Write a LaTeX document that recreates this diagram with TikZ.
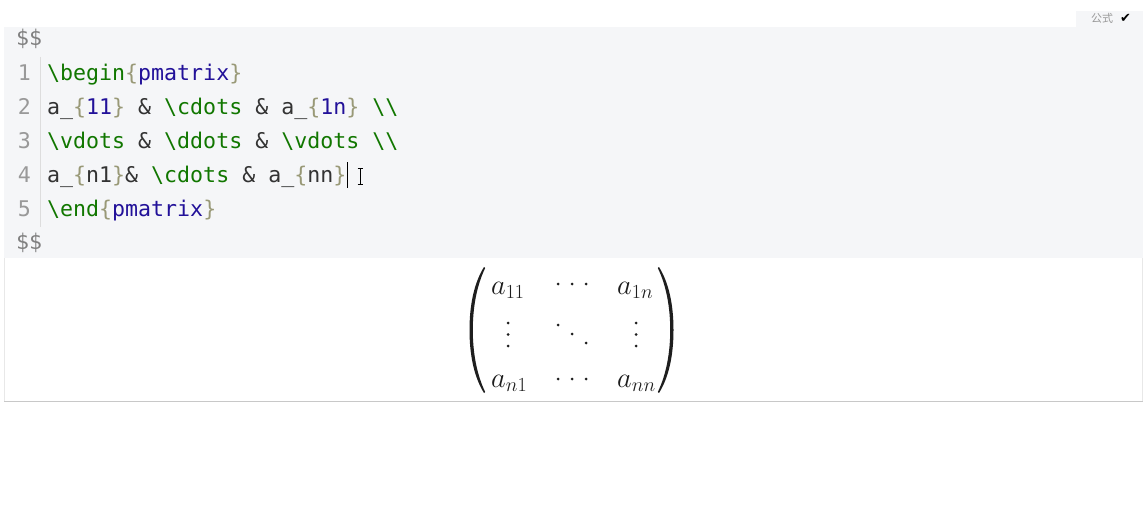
\RequirePackage{fix-cm}
\documentclass[tikz,border=0pt]{standalone}
\usepackage{amsmath}
\usepackage{fontspec}
\setmonofont{DejaVu Sans Mono}
\newfontfamily\cjkfont{Noto Sans CJK SC}
\newfontfamily\symfont{DejaVu Sans}

\definecolor{blockgray}{HTML}{F5F6F8}
\definecolor{tabgray}{HTML}{F5F6F8}
\definecolor{codetext}{HTML}{333333}
\definecolor{linenum}{HTML}{999999}
\definecolor{dollar}{HTML}{808080}
\definecolor{cmtag}{HTML}{117700}
\definecolor{cmbracket}{HTML}{999977}
\definecolor{cmatom}{HTML}{221199}
\definecolor{gutterline}{HTML}{DDDDDD}
\definecolor{panelline}{HTML}{E8E8E8}
\definecolor{panelbottom}{HTML}{C8C8C8}
\definecolor{mathink}{HTML}{1E1E1E}
\definecolor{tabtext}{HTML}{999999}

\newcommand{\cmd}[1]{\textcolor{cmtag}{\textbackslash #1}}
\newcommand{\obr}{\textcolor{cmbracket}{\{}}
\newcommand{\cbr}{\textcolor{cmbracket}{\}}}
\newcommand{\atom}[1]{\textcolor{cmatom}{#1}}
\newcommand{\eol}{\textcolor{cmtag}{\textbackslash\textbackslash}}

\tikzset{
  code/.style={font=\ttfamily\fontsize{21.6}{26}\selectfont, text=codetext, inner sep=0pt, anchor=base west},
  gutter/.style={code, text=linenum, anchor=base east},
  mathtext/.style={font=\fontsize{28.5}{34}\selectfont, text=mathink, inner sep=0pt, anchor=base west},
  tabfont/.style={inner sep=0pt, anchor=west},
}

\begin{document}
\begin{tikzpicture}[x=1pt, y=-1pt]

	\useasboundingbox (0,0) rectangle (1145,511);

	% code block and preview panel
	\fill[blockgray] (4,27) rectangle (1143,258);
	\fill[tabgray] (1076,11) rectangle (1143,27);
	\fill[white] (4,258) rectangle (1143,401);
	\draw[panelline] (4.5,258) -- (4.5,401) (1142.5,258) -- (1142.5,401);
	\draw[panelbottom] (4,401) -- (1143,401);
	\draw[gutterline] (40,57) -- (40,227);

	\node[tabfont, font=\cjkfont\fontsize{11}{13}\selectfont, text=tabtext] (tab) at (1091,18) {公式};
	\node[tabfont, font=\symfont\fontsize{13}{15}\selectfont, text=black] (tick) at (1120,18) {✔};

	% source lines
	\node[code, text=dollar] (open) at (16,46) {\$\$};
	\foreach \i/\y in {1/80, 2/114, 3/148, 4/182, 5/216}
		\node[gutter] (n\i) at (31,\y) {\i};
	\node[code] (l1) at (47,80) {\cmd{begin}\obr\atom{pmatrix}\cbr};
	\node[code] (l2) at (47,114) {a\_\obr\atom{11}\cbr{} \& \cmd{cdots} \& a\_\obr\atom{1n}\cbr{} \eol};
	\node[code] (l3) at (47,148) {\cmd{vdots} \& \cmd{ddots} \& \cmd{vdots} \eol};
	\node[code] (l4) at (47,182) {a\_\obr n1\cbr\& \cmd{cdots} \& a\_\obr nn\cbr};
	\node[code] (l5) at (47,216) {\cmd{end}\obr\atom{pmatrix}\cbr};
	\node[code, text=dollar] (close) at (16,249) {\$\$};

	% caret and mouse pointer
	\draw[black, line width=0.9pt] (347.5,162) -- (347.5,188);
	\draw[black, line width=0.7pt] (360,168) -- (360,184) (357.5,168) -- (362.5,168) (357.5,184) -- (362.5,184);

	% rendered matrix
	\node[mathtext] (a11) at (491,294) {$a_{11}$};
	\node[mathtext] (a1n) at (617,294) {$a_{1n}$};
	\node[mathtext] (an1) at (491,387) {$a_{n1}$};
	\node[mathtext] (ann) at (617,387) {$a_{nn}$};

	\foreach \x/\y in {558/284, 572/284, 586/284, 558/379, 572/379, 586/379,
		508/323, 508/334.5, 508/346, 636/323, 636/334.5, 636/346,
		558/325, 572/334, 586/343}
		\fill[mathink] (\x,\y) circle[radius=1.5];

	\fill[mathink] (484,267) .. controls (474,283) and (469.5,305) .. (469.5,330) .. controls (469.5,355) and (474,377) .. (484,393) -- (485.2,392) .. controls (476.5,374) and (472.8,352) .. (472.8,330) .. controls (472.8,308) and (476.5,286) .. (485.2,268) -- cycle;
	\begin{scope}[shift={(1143,0)}, xscale=-1]
		\fill[mathink] (484,267) .. controls (474,283) and (469.5,305) .. (469.5,330) .. controls (469.5,355) and (474,377) .. (484,393) -- (485.2,392) .. controls (476.5,374) and (472.8,352) .. (472.8,330) .. controls (472.8,308) and (476.5,286) .. (485.2,268) -- cycle;
	\end{scope}

\end{tikzpicture}
\end{document}
